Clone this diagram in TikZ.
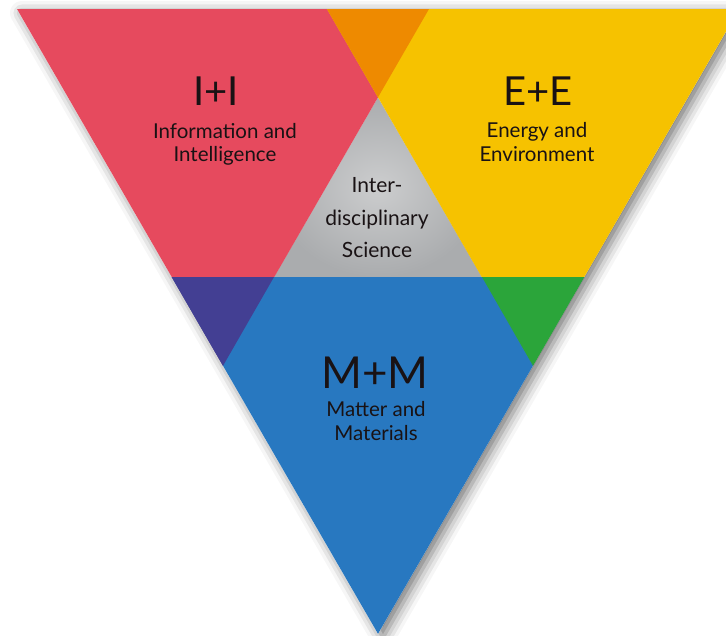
\documentclass[tikz,border=0pt]{standalone}
\usepackage{fontspec}
\setmainfont{Lato}
\usetikzlibrary{shadows.blur}
\definecolor{cred}{RGB}{230,74,94}
\definecolor{corange}{RGB}{238,138,0}
\definecolor{cyellow}{RGB}{246,194,0}
\definecolor{cblue}{RGB}{40,120,192}
\definecolor{cpurple}{RGB}{67,63,147}
\definecolor{cgreen}{RGB}{43,165,58}
\definecolor{cgrayin}{RGB}{204,205,206}
\definecolor{cgrayout}{RGB}{170,172,174}
\definecolor{ctext}{RGB}{25,18,20}
\tikzset{
  big/.style={font=\fontsize{40}{44}\selectfont, text=ctext, anchor=base, inner sep=0pt},
  bigm/.style={font=\fontsize{44}{48}\selectfont, text=ctext, anchor=base, inner sep=0pt},
  sub/.style={font=\fontsize{20.5}{23}\selectfont, text=ctext, anchor=base, inner sep=0pt},
  mid/.style={font=\fontsize{21}{24}\selectfont, text=ctext, anchor=base, inner sep=0pt},
}
\begin{document}
\begin{tikzpicture}[x=1pt,y=-1pt]
\useasboundingbox (0,0) rectangle (726,635);
\clip (0,0) rectangle (726,635);
% corner coordinates
\coordinate (TL) at (17,9);
\coordinate (A) at (327,9);
\coordinate (B) at (429,9);
\coordinate (TR) at (739,9);
\coordinate (X) at (378,97.3);
\coordinate (RA) at (223,365.8);
\coordinate (YA) at (533,365.8);
\coordinate (BL) at (171.7,277);
\coordinate (P) at (274,277);
\coordinate (Q) at (482,277);
\coordinate (BR) at (584.3,277);
\coordinate (BA) at (378,633.8);
% outline with shadow
\fill[white, blur shadow={shadow xshift=5pt, shadow yshift=-4pt, shadow blur radius=12pt, shadow opacity=55}] (TL) -- (TR) -- (BA) -- cycle;
% gray centre
\shade[inner color=cgrayin, outer color=cgrayout] (X) -- (P) -- (Q) -- cycle;
% main triangles
\fill[cred] (TL) -- (B) -- (RA) -- cycle;
\fill[cyellow] (A) -- (TR) -- (YA) -- cycle;
\fill[cblue] (BL) -- (BR) -- (BA) -- cycle;
% overlaps
\fill[corange] (A) -- (B) -- (X) -- cycle;
\fill[cpurple] (BL) -- (P) -- (RA) -- cycle;
\fill[cgreen] (Q) -- (BR) -- (YA) -- cycle;
% labels
\node[big] (ii) at (216,105) {I+I};
\node[sub] (ii1) at (225,138) {Information and};
\node[sub] (ii2) at (225,161) {Intelligence};
\node[big] (ee) at (538,105) {E+E};
\node[sub] (ee1) at (537,137) {Energy and};
\node[sub] (ee2) at (537,161) {Environment};
\node[mid] (is1) at (377,192) {Inter-};
\node[mid] (is2) at (377,225) {disciplinary};
\node[mid] (is3) at (377,257) {Science};
\node[bigm] (mm) at (375,388) {M+M};
\node[sub] (mm1) at (376,416) {Matter and};
\node[sub] (mm2) at (376,440) {Materials};
\end{tikzpicture}
\end{document}
